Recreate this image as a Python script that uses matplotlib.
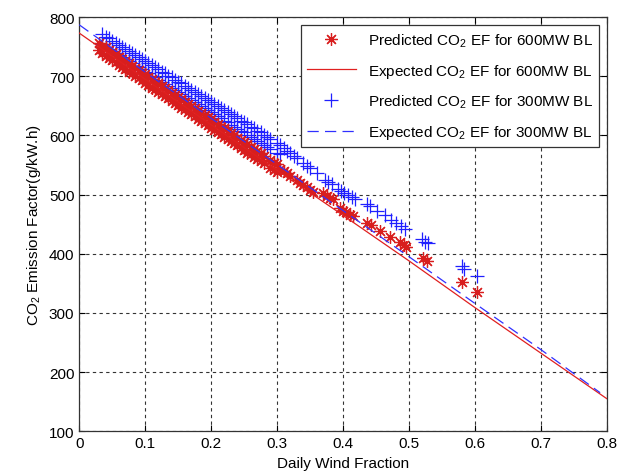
import matplotlib
matplotlib.use("Agg")
import matplotlib.pyplot as plt

plt.rcParams['font.family'] = ['Liberation Sans', 'DejaVu Sans']
plt.rcParams['mathtext.fontset'] = 'custom'
plt.rcParams['mathtext.rm'] = 'Liberation Sans'

# Predicted CO2 EF, 600MW baseload (red asterisks)
red_x = [0.030, 0.030, 0.035, 0.035, 0.040, 0.040, 0.045, 0.045, 0.050, 0.050,
         0.055, 0.055, 0.060, 0.060, 0.065, 0.065, 0.070, 0.070, 0.075, 0.075,
         0.080, 0.080, 0.085, 0.085, 0.090, 0.090, 0.095, 0.095, 0.100, 0.100,
         0.105, 0.105, 0.110, 0.110, 0.115, 0.115, 0.120, 0.120, 0.125, 0.125,
         0.130, 0.130, 0.135, 0.135, 0.140, 0.140, 0.145, 0.145, 0.150, 0.150,
         0.155, 0.155, 0.160, 0.160, 0.165, 0.165, 0.170, 0.170, 0.175, 0.175,
         0.180, 0.180, 0.185, 0.185, 0.190, 0.190, 0.195, 0.195, 0.200, 0.200,
         0.205, 0.205, 0.210, 0.210, 0.215, 0.215, 0.220, 0.220, 0.225, 0.225,
         0.230, 0.230, 0.235, 0.235, 0.240, 0.240, 0.245, 0.245, 0.250, 0.250,
         0.255, 0.255, 0.260, 0.260, 0.265, 0.265, 0.270, 0.270, 0.275, 0.275,
         0.280, 0.280, 0.290, 0.290, 0.295, 0.295, 0.300, 0.300,
         0.305, 0.310, 0.315, 0.320, 0.330, 0.335, 0.340, 0.345, 0.350, 0.355,
         0.370, 0.375, 0.380, 0.385, 0.395, 0.400, 0.405, 0.410, 0.415,
         0.437, 0.443, 0.456, 0.471, 0.487, 0.492, 0.495,
         0.522, 0.527, 0.580, 0.603]
red_y = [756, 744, 750, 740, 749, 735, 744, 731, 741, 728,
         737, 724, 733, 719, 729, 716, 725, 712, 722, 708,
         718, 705, 714, 700, 711, 697, 706, 693, 703, 689,
         699, 685, 695, 681, 691, 678, 688, 674, 684, 670,
         680, 666, 676, 663, 672, 659, 669, 655, 665, 651,
         661, 647, 657, 644, 653, 640, 650, 636, 646, 632,
         642, 628, 638, 625, 634, 621, 631, 617, 627, 613,
         623, 609, 619, 606, 615, 602, 612, 598, 608, 594,
         604, 590, 600, 587, 596, 583, 593, 579, 589, 575,
         585, 571, 581, 568, 577, 564, 574, 560, 570, 556,
         566, 553, 558, 545, 554, 541, 551, 538,
         544, 540, 536, 532, 525, 520, 517, 512, 508, 505,
         502, 498, 494, 492, 478, 473, 470, 466, 463,
         452, 448, 438, 428, 420, 415, 412,
         393, 388, 352, 335]

# Predicted CO2 EF, 300MW baseload (blue pluses)
blue_x = [0.035, 0.035, 0.040, 0.040, 0.045, 0.045, 0.050, 0.050, 0.055, 0.055,
          0.060, 0.060, 0.065, 0.065, 0.070, 0.070, 0.075, 0.075, 0.080, 0.080,
          0.085, 0.085, 0.090, 0.090, 0.095, 0.095, 0.100, 0.100, 0.105, 0.105,
          0.110, 0.110, 0.115, 0.115, 0.120, 0.120, 0.125, 0.125, 0.130, 0.130,
          0.135, 0.135, 0.140, 0.140, 0.145, 0.145, 0.150, 0.150, 0.155, 0.155,
          0.160, 0.160, 0.165, 0.165, 0.170, 0.170, 0.175, 0.175, 0.180, 0.180,
          0.185, 0.185, 0.190, 0.190, 0.195, 0.195, 0.200, 0.200, 0.205, 0.205,
          0.210, 0.210, 0.215, 0.215, 0.220, 0.220, 0.225, 0.225, 0.230, 0.230,
          0.235, 0.235, 0.240, 0.240, 0.245, 0.245, 0.250, 0.250, 0.255, 0.255,
          0.260, 0.260, 0.265, 0.265, 0.270, 0.270, 0.275, 0.275, 0.280, 0.280,
          0.285, 0.285, 0.290, 0.290, 0.300, 0.300, 0.305, 0.305,
          0.310, 0.315, 0.320, 0.325, 0.330, 0.340, 0.345, 0.350, 0.360,
          0.372, 0.378, 0.383, 0.392, 0.397, 0.402, 0.408, 0.413, 0.418,
          0.437, 0.441, 0.452, 0.463, 0.473, 0.480, 0.488, 0.494,
          0.520, 0.524, 0.529, 0.580, 0.583, 0.603]
blue_y = [771, 754, 767, 750, 764, 746, 760, 743, 757, 739,
          753, 736, 750, 732, 746, 729, 743, 725, 739, 722,
          736, 718, 732, 715, 729, 712, 726, 708, 722, 705,
          719, 701, 715, 698, 712, 694, 708, 691, 705, 687,
          701, 684, 698, 680, 694, 677, 691, 674, 688, 670,
          684, 667, 681, 663, 677, 660, 674, 656, 670, 653,
          667, 649, 663, 646, 660, 643, 657, 639, 653, 636,
          650, 632, 646, 629, 643, 625, 639, 622, 636, 618,
          632, 615, 629, 611, 625, 608, 622, 605, 619, 601,
          615, 598, 612, 594, 608, 591, 605, 587, 601, 584,
          598, 580, 594, 577, 587, 571, 583, 568,
          578, 574, 570, 566, 562, 554, 549, 545, 537,
          524, 521, 518, 510, 506, 503, 500, 496, 493,
          484, 481, 473, 466, 457, 452, 447, 441,
          425, 420, 418, 379, 375, 362]

# Expected CO2 EF lines
exp_x = [0.0, 0.1, 0.2, 0.3, 0.4, 0.5, 0.6, 0.7, 0.8]
exp600_y = [773, 695, 618, 541, 465, 388, 309, 232, 155]
exp300_x = [0.0, 0.1, 0.2, 0.3, 0.4, 0.5, 0.6, 0.7, 0.79]
exp300_y = [787, 707, 629, 551, 473, 395, 316, 238, 165]

fig = plt.figure(figsize=(6.34, 4.77), dpi=100)
ax = fig.add_axes([0.125, 0.094, 0.832, 0.868])

ax.plot(red_x, red_y, linestyle='none', marker=(8, 2, 0), color='#d81e1e',
        markersize=9, markeredgewidth=0.9,
        label=r'Predicted CO$_2$ EF for 600MW BL', zorder=3)
ax.plot(exp_x, exp600_y, '-', color='#e02020', linewidth=0.9,
        label=r'Expected CO$_2$ EF for 600MW BL', zorder=4)
ax.plot(blue_x, blue_y, '+', color='#2020ff', markersize=10, markeredgewidth=0.9,
        label=r'Predicted CO$_2$ EF for 300MW BL', zorder=2)
ax.plot(exp300_x, exp300_y, color='#3030ff', linewidth=0.9, dashes=(9, 5),
        label=r'Expected CO$_2$ EF for 300MW BL', zorder=4)

ax.set_xlim(0, 0.8)
ax.set_ylim(100, 800)
ax.set_xticks([0, 0.1, 0.2, 0.3, 0.4, 0.5, 0.6, 0.7, 0.8])
ax.set_xticklabels(['0', '0.1', '0.2', '0.3', '0.4', '0.5', '0.6', '0.7', '0.8'])
ax.set_yticks(range(100, 801, 100))
ax.tick_params(direction='in', top=True, right=True, labelsize=11, length=4)
ax.grid(True, color='#333333', linestyle=(0, (3, 3)), linewidth=0.8)
for s in ax.spines.values():
    s.set_linewidth(0.9)
    s.set_color('#333333')

ax.set_xlabel('Daily Wind Fraction', fontsize=11)
ax.set_ylabel(r'CO$_2$ Emission Factor(g/kW.h)', fontsize=11)

leg = ax.legend(loc='upper right', fontsize=11, fancybox=False, framealpha=1,
                edgecolor='#333333', handlelength=3.2, borderaxespad=0.5,
                labelspacing=0.85)
leg.get_frame().set_linewidth(0.9)

fig.savefig('out.png', dpi=100)
